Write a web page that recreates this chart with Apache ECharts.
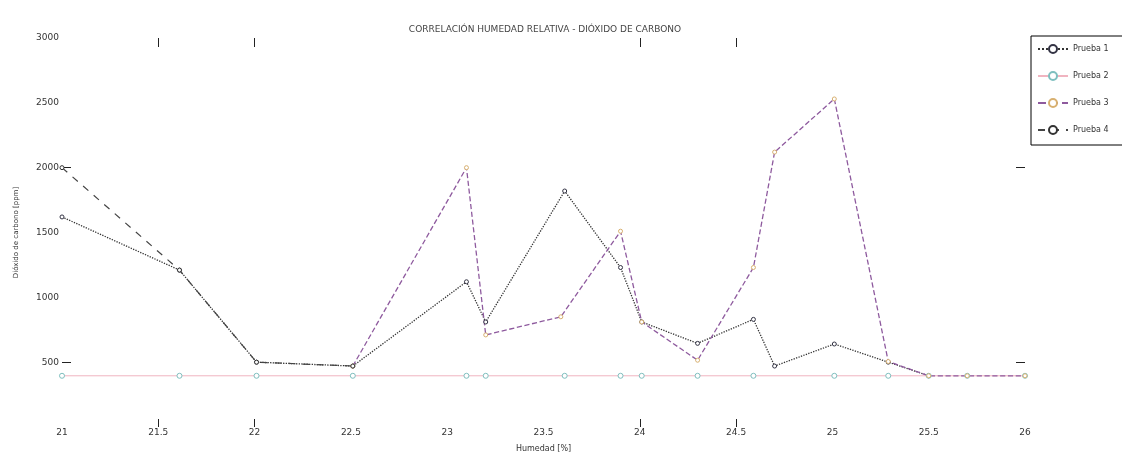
<!DOCTYPE html>
<html>
<head>
<meta charset="utf-8">
<script src="https://cdn.jsdelivr.net/npm/echarts@6/dist/echarts.min.js"></script>
<style>html,body{margin:0;padding:0;background:#fff}#c{width:1122px;height:458px}</style>
</head>
<body>
<div id="c"></div>
<script>
var seriesNames = ['Prueba 1', 'Prueba 2', 'Prueba 3', 'Prueba 4'];
var xTicks = [21, 21.5, 22, 22.5, 23, 23.5, 24, 24.5, 25, 25.5, 26];
var yTicks = [0, 500, 1000, 1500, 2000, 2500, 3000];

var p1X = [21, 21.61, 22.01, 22.51, 23.10, 23.20, 23.61, 23.90, 24.01, 24.30, 24.59, 24.70, 25.01, 25.29, 25.50];
var p1Y = [1620, 1210, 500, 470, 1120, 810, 1820, 1230, 810, 645, 830, 470, 640, 500, 395];

var p2X = [21, 21.61, 22.01, 22.51, 23.10, 23.20, 23.61, 23.90, 24.01, 24.30, 24.59, 25.01, 25.29, 25.50, 25.70, 26];
var p2Y = [395, 395, 395, 395, 395, 395, 395, 395, 395, 395, 395, 395, 395, 395, 395, 395];

var p3X = [22.51, 23.10, 23.20, 23.59, 23.90, 24.01, 24.30, 24.59, 24.70, 25.01, 25.29, 25.50, 25.70, 26];
var p3Y = [470, 2000, 710, 850, 1510, 810, 515, 1230, 2120, 2530, 505, 395, 395, 395];

var p4X = [21, 21.61, 22.01, 22.51];
var p4Y = [2000, 1210, 500, 470];

function zip(xs, ys) { return xs.map(function (x, i) { return [x, ys[i]]; }); }

var chart = echarts.init(document.getElementById('c'));
var axisFont = { fontFamily: 'DejaVu Sans', fontSize: 9, color: '#333' };
var tickX = [21.5, 22, 24, 24.5];
var tickY = [500, 2000];
chart.setOption({
  animation: false,
  backgroundColor: '#fff',
  title: {
    text: 'CORRELACIÓN HUMEDAD RELATIVA - DIÓXIDO DE CARBONO',
    left: 540, top: 20, textAlign: 'center',
    textStyle: { fontFamily: 'DejaVu Sans', fontSize: 9, fontWeight: 'normal', color: '#444' }
  },
  legend: {
    data: seriesNames,
    orient: 'vertical',
    left: 1031, top: 36,
    itemWidth: 30, itemHeight: 10, itemGap: 17,
    padding: [8, 30, 10, 6],
    borderColor: '#000', borderWidth: 1,
    textStyle: { fontFamily: 'DejaVu Sans', fontSize: 8, color: '#333' }
  },
  grid: { left: 62, right: 97, top: 38, bottom: 26 },
  xAxis: [{
    type: 'value', min: xTicks[0], max: xTicks[xTicks.length - 1], interval: 0.5,
    name: 'Humedad [%]', nameLocation: 'middle', nameGap: 18,
    nameTextStyle: { fontFamily: 'DejaVu Sans', fontSize: 8, color: '#333' },
    axisLine: { show: false, onZero: false },
    axisTick: { show: true, inside: true, length: 8, customValues: tickX, lineStyle: { color: '#222' } },
    splitLine: { show: false },
    axisLabel: Object.assign({ margin: 1 }, axisFont)
  }, {
    type: 'value', position: 'top', min: xTicks[0], max: xTicks[xTicks.length - 1], interval: 0.5,
    axisLine: { show: false, onZero: false },
    axisTick: { show: true, inside: true, length: 9, customValues: tickX, lineStyle: { color: '#222' } },
    axisLabel: { show: false }, splitLine: { show: false }
  }],
  yAxis: [{
    type: 'value', min: yTicks[0], max: yTicks[yTicks.length - 1], interval: 500,
    name: 'Dióxido de carbono [ppm]', nameLocation: 'middle', nameGap: 42,
    nameTextStyle: { fontFamily: 'DejaVu Sans', fontSize: 7, color: '#333' },
    axisLine: { show: false, onZero: false },
    axisTick: { show: true, inside: true, length: 9, customValues: tickY, lineStyle: { color: '#222' } },
    splitLine: { show: false },
    axisLabel: Object.assign({ margin: 3, formatter: function (v) { return v === 0 ? '' : String(v); } }, axisFont)
  }, {
    type: 'value', position: 'right', min: yTicks[0], max: yTicks[yTicks.length - 1], interval: 500,
    axisLine: { show: false, onZero: false },
    axisTick: { show: true, inside: true, length: 9, customValues: tickY, lineStyle: { color: '#222' } },
    axisLabel: { show: false }, splitLine: { show: false }
  }],
  series: [{
    name: seriesNames[0], type: 'line', data: zip(p1X, p1Y),
    symbol: 'circle', symbolSize: 4,
    lineStyle: { color: '#333', type: 'dotted', width: 1.3 },
    itemStyle: { color: '#fff', borderColor: '#334', borderWidth: 1 }
  }, {
    name: seriesNames[1], type: 'line', data: zip(p2X, p2Y),
    symbol: 'circle', symbolSize: 5,
    lineStyle: { color: '#f0b4c0', type: 'solid', width: 1 },
    itemStyle: { color: '#fff', borderColor: '#7fbfbf', borderWidth: 1 }
  }, {
    name: seriesNames[2], type: 'line', data: zip(p3X, p3Y),
    symbol: 'circle', symbolSize: 4,
    lineStyle: { color: '#8e5a9e', type: 'dashed', width: 1.3 },
    itemStyle: { color: '#fff', borderColor: '#d8b070', borderWidth: 1 }
  }, {
    name: seriesNames[3], type: 'line', data: zip(p4X, p4Y),
    symbol: 'circle', symbolSize: 4,
    lineStyle: { color: '#444', type: [7, 7], width: 1.2 },
    itemStyle: { color: '#fff', borderColor: '#333', borderWidth: 1 }
  }, {
    name: '_top', type: 'line', xAxisIndex: 1, yAxisIndex: 1, data: [],
    silent: true, showSymbol: false
  }]
});
</script>
</body>
</html>
